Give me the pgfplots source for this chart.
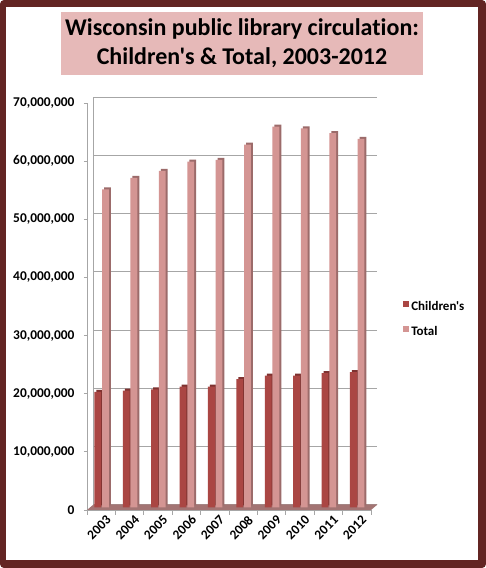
\documentclass[border=0pt]{standalone}
\usepackage{pgfplots}
\pgfplotsset{compat=1.18}
\usepackage{fontspec}
\setmainfont{Carlito}[Ligatures={TeXOff,NoCommon}]
\definecolor{framec}{HTML}{632523}
\definecolor{titlebg}{HTML}{E6B9B8}
\definecolor{cred}{HTML}{AA4643}
\definecolor{credside}{HTML}{7E3230}
\definecolor{cpink}{HTML}{D49593}
\definecolor{cpinkside}{HTML}{9C6B6A}
\definecolor{floorc}{HTML}{A37473}
\definecolor{gridc}{HTML}{A6A6A6}
\begin{document}
\begin{tikzpicture}[x=1pt,y=1pt]
\fill[framec, rounded corners=4pt] (0,0) rectangle (486,568);
\fill[white] (6,8) rectangle (478,561);
\fill[titlebg] (61,493) rectangle (423,556);
\node[align=center, font=\bfseries\fontsize{24}{29}\selectfont, inner sep=0pt] at (242,524.5) {Wisconsin public library circulation:\\Children's \& Total, 2003-2012};
\begin{axis}[
  at={(87pt,58pt)}, anchor=south west, scale only axis,
  width=284pt, height=407pt,
  xmin=-0.5, xmax=9.5, ymin=0, ymax=70000000,
  clip=false,
  axis x line*=bottom, axis y line*=left,
  axis line style={gridc, line width=0.8pt},
  ytick={0,10000000,20000000,30000000,40000000,50000000,60000000,70000000},
  scaled y ticks=false,
  yticklabel style={font=\bfseries\fontsize{13.4}{15}\selectfont, xshift=-6pt,
    /pgf/number format/.cd, fixed, 1000 sep={,}, assume math mode=true},
  ymajorgrids,
  major grid style={gridc, line width=0.9pt, shift={(6.5pt,5.5pt)}},
  tick align=outside,
  major tick length=3pt, minor tick length=5pt,
  tick style={gridc, line width=0.8pt},
  xtick={0,...,9},
  xticklabels={2003,2004,2005,2006,2007,2008,2009,2010,2011,2012},
  x tick style={draw=none},
  minor xtick={-0.5,0.5,...,9.5},
  minor x tick style={gridc, draw=gridc},
  xticklabel style={rotate=45, anchor=north east, inner sep=1pt, yshift=-3pt, xshift=3pt,
    font=\bfseries\fontsize{13.4}{15}\selectfont},
  legend style={at={(1.113,0.469)}, anchor=west, draw=none, fill=none,
    inner sep=0pt, row sep=10pt, font=\bfseries\fontsize{13}{15}\selectfont},
  legend cell align=left,
]
\fill[floorc] (rel axis cs:0,0) -- (rel axis cs:1,0) -- ([shift={(6.5pt,5.5pt)}]rel axis cs:1,0) -- ([shift={(6.5pt,5.5pt)}]rel axis cs:0,0) -- cycle;
\draw[gridc, line width=0.8pt] ([shift={(6.5pt,5.5pt)}]rel axis cs:0,0) -- ([shift={(6.5pt,5.5pt)}]rel axis cs:0,1);
% Children's
\addplot[ybar, bar width=6.8pt, bar shift=-6.4pt, fill=credside, draw=none, xshift=5pt, yshift=4.5pt, forget plot]
  coordinates {(0,19900000) (1,20100000) (2,20300000) (3,20800000) (4,20800000) (5,22100000) (6,22700000) (7,22700000) (8,23100000) (9,23300000)};
\addplot[ybar, bar width=6.8pt, bar shift=-6.4pt, fill=cred, draw=none, xshift=3pt, yshift=2.5pt,
  legend image code/.code={\fill[cred] (0pt,-3pt) rectangle (6pt,3pt);}]
  coordinates {(0,19900000) (1,20100000) (2,20300000) (3,20800000) (4,20800000) (5,22100000) (6,22700000) (7,22700000) (8,23100000) (9,23300000)};
\addlegendentry{Children's}
% Total
\addplot[ybar, bar width=6.8pt, bar shift=1.3pt, fill=cpinkside, draw=none, xshift=5pt, yshift=4.5pt, forget plot]
  coordinates {(0,54700000) (1,56700000) (2,57900000) (3,59500000) (4,59800000) (5,62400000) (6,65500000) (7,65200000) (8,64400000) (9,63400000)};
\addplot[ybar, bar width=6.8pt, bar shift=1.3pt, fill=cpink, draw=none, xshift=3pt, yshift=2.5pt,
  legend image code/.code={\fill[cpink] (0pt,-3pt) rectangle (6pt,3pt);}]
  coordinates {(0,54700000) (1,56700000) (2,57900000) (3,59500000) (4,59800000) (5,62400000) (6,65500000) (7,65200000) (8,64400000) (9,63400000)};
\addlegendentry{Total}
\end{axis}
\end{tikzpicture}
\end{document}
